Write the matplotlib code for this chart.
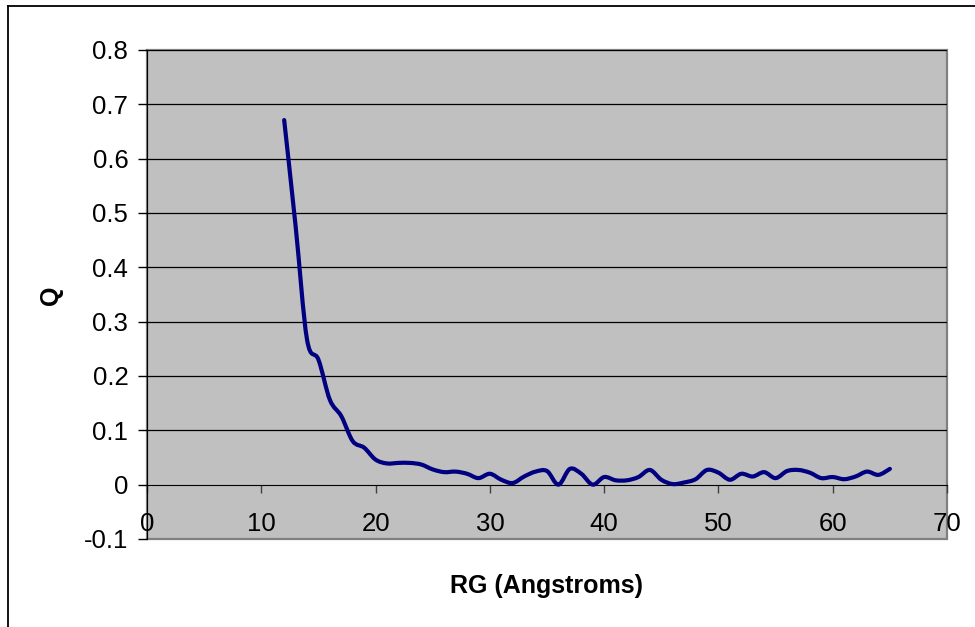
import matplotlib
matplotlib.use("Agg")
import matplotlib.pyplot as plt
import numpy as np
from matplotlib.path import Path
from matplotlib.patches import PathPatch
from matplotlib.lines import Line2D

plt.rcParams['font.family'] = ['Liberation Sans', 'DejaVu Sans']

rg = list(range(12, 66))
q = [0.671, 0.476, 0.267, 0.230, 0.156, 0.126, 0.080, 0.068, 0.046, 0.039,
     0.040, 0.040, 0.037, 0.028, 0.023, 0.024, 0.020, 0.012, 0.020, 0.009,
     0.003, 0.015, 0.024, 0.025, 0.000, 0.029, 0.020, 0.000, 0.014, 0.008,
     0.008, 0.014, 0.027, 0.009, 0.001, 0.004, 0.010, 0.027, 0.022, 0.009,
     0.020, 0.015, 0.023, 0.012, 0.025, 0.027, 0.022, 0.012, 0.014, 0.010,
     0.015, 0.024, 0.018, 0.029]
x_ticks = [0, 10, 20, 30, 40, 50, 60, 70]
y_ticks = [-0.1, 0, 0.1, 0.2, 0.3, 0.4, 0.5, 0.6, 0.7, 0.8]


def smooth_path(xs, ys):
    # bezier segments through every point (catmull-rom style, like a smoothed line)
    pts = np.column_stack([xs, ys]).astype(float)
    n = len(pts)
    verts = [pts[0]]
    codes = [Path.MOVETO]
    for i in range(n - 1):
        p0 = pts[i - 1] if i > 0 else pts[i]
        p1 = pts[i]
        p2 = pts[i + 1]
        p3 = pts[i + 2] if i + 2 < n else pts[i + 1]
        c1 = p1 + (p2 - p0) / 6.0
        c2 = p2 - (p3 - p1) / 6.0
        verts += [c1, c2, p2]
        codes += [Path.CURVE4] * 3
    return Path(verts, codes)


fig = plt.figure(figsize=(9.75, 6.27), dpi=100)
ax = fig.add_axes([0.1508, 0.1404, 0.8205, 0.7799])
ax.set_facecolor('#c0c0c0')
ax.patch.set_edgecolor('#808080')
ax.patch.set_linewidth(1.6)

ax.set_xlim(0, 70)
ax.set_ylim(-0.1, 0.8)
ax.set_xticks(x_ticks)
ax.set_yticks(y_ticks)
ax.set_yticklabels(['-0.1', '0', '0.1', '0.2', '0.3', '0.4', '0.5', '0.6', '0.7', '0.8'])
ax.set_xticklabels([str(v) for v in x_ticks])

for yv in y_ticks[2:]:
    ax.axhline(yv, color='black', lw=0.9, zorder=1)

ax.spines['bottom'].set_position(('data', 0))
ax.spines['bottom'].set_color('black')
ax.spines['left'].set_color('black')
ax.spines['top'].set_visible(False)
ax.spines['right'].set_visible(False)

ax.tick_params(axis='y', direction='out', length=6.5, width=1, pad=7, labelsize=18.5)
ax.tick_params(axis='x', direction='out', length=6, width=1, pad=14, labelsize=18.5,
               color='#404040')

patch = PathPatch(smooth_path(rg, q), facecolor='none', edgecolor='#000080',
                  lw=3, capstyle='round', joinstyle='round', zorder=3)
ax.add_patch(patch)

fig.text(0.052, 0.529, 'Q', rotation=90, fontsize=18, fontweight='bold',
         ha='center', va='center')
fig.text(0.561, 0.065, 'RG (Angstroms)', fontsize=18, fontweight='bold',
         ha='center', va='center')

# outer chart frame
fig.add_artist(Line2D([8 / 975, 1], [1 - 6 / 627, 1 - 6 / 627], color='black', lw=1.3,
                      transform=fig.transFigure))
fig.add_artist(Line2D([8 / 975, 8 / 975], [0, 1 - 6 / 627], color='black', lw=1.3,
                      transform=fig.transFigure))

fig.savefig('out.png', dpi=100)
